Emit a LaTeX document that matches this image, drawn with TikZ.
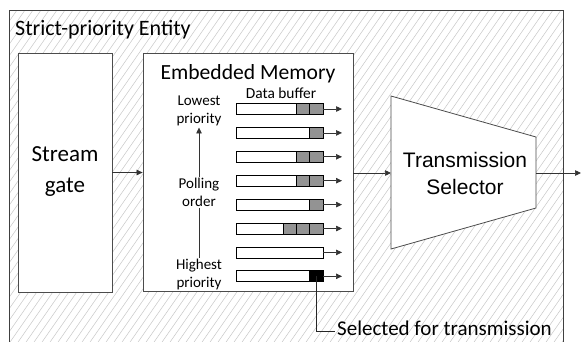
\documentclass[tikz,border=0pt]{standalone}
\usepackage{fontspec}
\setmainfont{Carlito}
\newfontfamily\arialfont{Liberation Sans}
\usetikzlibrary{arrows.meta}
\begin{document}
\begin{tikzpicture}[x=1pt,y=-1pt,
  box/.style={draw=black!70,line width=0.8pt,fill=white},
  buf/.style={draw=black,line width=0.8pt,fill=white},
  cell/.style={draw=black,line width=0.8pt,fill=gray!85},
  conn/.style={draw=black!80,line width=0.7pt,-{Triangle[length=6pt,width=5.5pt]}},
  lbl/.style={font=\fontsize{15}{18.5}\selectfont,align=center,inner sep=1pt}]
\useasboundingbox (0,0) rectangle (585,341);
% outer entity
\begin{scope}
\clip (9,10) rectangle (563,345);
\foreach \i in {-60,...,80} {
  \draw[black!22,line width=0.5pt] ({\i*8},345) -- ({\i*8+240},0);
}
\end{scope}
\draw[black!75,line width=0.8pt] (9,345) -- (9,10) -- (563,10) -- (563,345);
\node[anchor=west,font=\fontsize{22}{24}\selectfont,inner sep=0] (title) at (15,30) {Strict-priority Entity};
% stream gate
\node[box,minimum width=94,minimum height=239,inner sep=0] (sg) at (65,172.5) {};
\node[font=\fontsize{23}{31}\selectfont,align=center] (sgt) at (65,172) {Stream\\gate};
% memory
\node[box,minimum width=210,minimum height=238,inner sep=0] (mem) at (248,172) {};
\node[font=\fontsize{21.6}{24}\selectfont,inner sep=0] (memt) at (248,74) {Embedded Memory};
\node[font=\fontsize{15.4}{17}\selectfont,inner sep=0] (dbt) at (281,93) {Data buffer};
% buffers
\foreach \r/\n in {1/2,2/1,3/2,4/2,5/1,6/3,7/0} {
  \pgfmathsetmacro{\yy}{109+(\r-1)*23.9}
  \node[buf,minimum width=87,minimum height=11,inner sep=0] (b\r) at (279.5,\yy) {};
  \ifnum\n>0
    \foreach \c in {1,...,\n} {
      \draw[cell] ({323-\c*13.3},{\yy-5.5}) rectangle ({323-(\c-1)*13.3},{\yy+5.5});
    }
  \fi
  \coordinate (e\r) at (342,\yy);
  \draw[conn] (b\r.east) -- (e\r);
}
\node[buf,minimum width=87,minimum height=11,inner sep=0] (b8) at (279.5,276.3) {};
\node[draw=black,line width=0.8pt,fill=black,minimum width=13.5,minimum height=11,inner sep=0] (blk) at (316,276.3) {};
\coordinate (e8) at (342,276.3);
\draw[conn] (b8.east) -- (e8);
% priority labels
\node[lbl] (low) at (199,111) {Lowest\\priority};
\node[lbl] (poll) at (199,192.5) {Polling\\order};
\node[lbl] (high) at (199,274.5) {Highest\\priority};
\draw[black!80,line width=0.7pt] (high.north) -- (poll.south);
\draw[conn] (poll.north) -- (low.south);
% transmission selector
\coordinate (t1) at (391,96);
\coordinate (t2) at (536,137);
\coordinate (t3) at (536,208);
\coordinate (t4) at (391,249);
\draw[box] (t1) -- (t2) -- (t3) -- (t4) -- cycle;
\coordinate (tin) at (391,173);
\coordinate (tout) at (536,173);
\node[font=\arialfont\fontsize{21}{27}\selectfont,align=center] (ts) at (465,173) {Transmission\\Selector};
\coordinate (out) at (581,173);
% connectors
\draw[conn] (sg.east |- 0,172.5) -- (mem.west |- 0,172.5);
\draw[conn] (mem.east |- tin) -- (tin);
\draw[conn] (tout) -- (out);
% selected
\node[anchor=base west,font=\fontsize{21}{24}\selectfont,inner sep=0] (sel) at (337,335.5) {Selected for transmission};
\coordinate (selc) at (335,331);
\draw[black!85,line width=0.7pt] (blk.center) |- (selc);
\end{tikzpicture}
\end{document}
